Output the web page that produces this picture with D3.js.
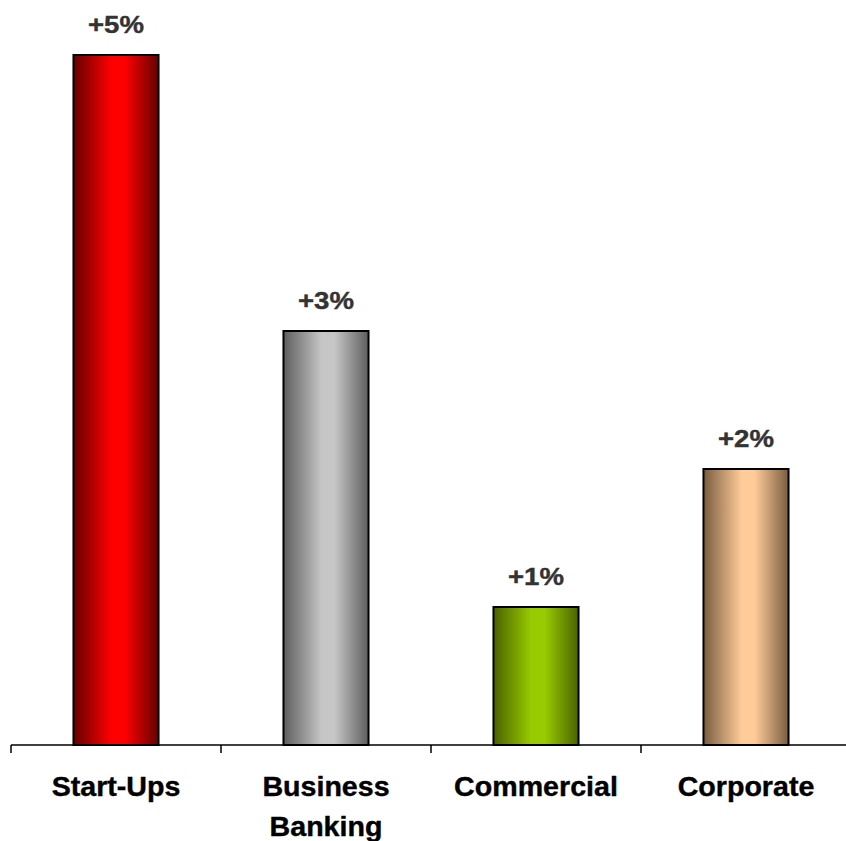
<!DOCTYPE html>
<html>
<head>
<meta charset="utf-8">
<script src="https://cdn.jsdelivr.net/npm/d3@7"></script>
<style>
  html, body { margin: 0; padding: 0; background: #ffffff; }
  svg { display: block; font-family: "Liberation Sans", Arial, sans-serif; }
</style>
</head>
<body>
<div id="vis"></div>
<script>
// chart data
var categories = ["Start-Ups", "Business\nBanking", "Commercial", "Corporate"];
var values = [5, 3, 1, 2];
var valueLabels = ["+5%", "+3%", "+1%", "+2%"];
// gradient colours: [edge, centre]
var barColors = [
  ["#660000", "#ff0000"],
  ["#5e5e5e", "#c6c6c6"],
  ["#4a6200", "#99cc00"],
  ["#7a5c40", "#ffcc99"]
];

var width = 846, height = 841;

var svg = d3.select("#vis")
  .append("svg")
    .attr("width", width)
    .attr("height", height);

// Add X scale (one band per category, bars sit in the middle)
var x = d3.scaleBand()
  .domain(categories)
  .range([11, 851])
  .padding(0);

var barW = x.bandwidth() * 0.405;

// Add Y scale
var y = d3.scaleLinear()
  .domain([0, 5])
  .range([745, 55]);

// gradients
var defs = svg.append("defs");
barColors.forEach(function (c, i) {
  var g = defs.append("linearGradient")
    .attr("id", "grad" + i)
    .attr("x1", "0%").attr("x2", "100%")
    .attr("y1", "0%").attr("y2", "0%");
  g.append("stop").attr("offset", "0%").attr("stop-color", c[0]);
  g.append("stop").attr("offset", "45%").attr("stop-color", c[1]);
  g.append("stop").attr("offset", "60%").attr("stop-color", c[1]);
  g.append("stop").attr("offset", "100%").attr("stop-color", c[0]);
});

// bars
svg.append("g")
  .selectAll("rect")
  .data(values)
  .enter()
  .append("rect")
    .attr("x", function (d, i) { return x(categories[i]) + (x.bandwidth() - barW) / 2; })
    .attr("y", function (d) { return y(d); })
    .attr("width", barW)
    .attr("height", function (d) { return y(0) - y(d); })
    .attr("fill", function (d, i) { return "url(#grad" + i + ")"; })
    .attr("stroke", "#000000")
    .attr("stroke-width", 2);

// value labels above the bars
svg.append("g")
  .selectAll("text")
  .data(values)
  .enter()
  .append("text")
    .attr("transform", function (d, i) {
      return "translate(" + (x(categories[i]) + x.bandwidth() / 2) + "," + (y(d) - 22) + ") scale(1.15,1)";
    })
    .attr("text-anchor", "middle")
    .style("font-size", "24px")
    .style("font-weight", "bold")
    .style("fill", "#333333")
    .style("stroke", "#333333")
    .style("stroke-width", 0.4)
    .text(function (d, i) { return valueLabels[i]; });

// x axis line with ticks at band edges
var axis = svg.append("g");
axis.append("line")
  .attr("x1", x.range()[0]).attr("x2", x.range()[1])
  .attr("y1", y(0)).attr("y2", y(0))
  .attr("stroke", "#000000")
  .attr("stroke-width", 1.5);

axis.selectAll("line.tick")
  .data(categories.concat([null]))
  .enter()
  .append("line")
    .attr("class", "tick")
    .attr("x1", function (d) { return d === null ? x.range()[1] : x(d); })
    .attr("x2", function (d) { return d === null ? x.range()[1] : x(d); })
    .attr("y1", y(0))
    .attr("y2", y(0) + 8)
    .attr("stroke", "#000000")
    .attr("stroke-width", 1.5);

// category labels
var catText = svg.append("g")
  .selectAll("text")
  .data(categories)
  .enter()
  .append("text")
    .attr("transform", function (d) {
      return "translate(" + (x(d) + x.bandwidth() / 2) + ",796) scale(1.06,1)";
    })
    .attr("text-anchor", "middle")
    .style("font-size", "27px")
    .style("font-weight", "bold")
    .style("fill", "#000000")
    .style("stroke", "#000000")
    .style("stroke-width", 0.4);

catText.selectAll("tspan")
  .data(function (d) { return d.split("\n"); })
  .enter()
  .append("tspan")
    .attr("x", 0)
    .attr("dy", function (d, i) { return i === 0 ? 0 : 40; })
    .text(function (d) { return d; });
</script>
</body>
</html>
